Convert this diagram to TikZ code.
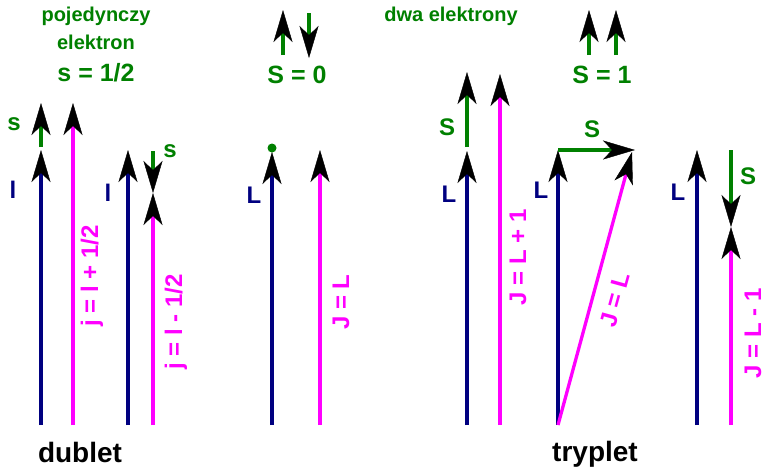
\documentclass[tikz,border=0pt]{standalone}
\usepackage{fontspec}
\setmainfont{Liberation Sans}
\usetikzlibrary{arrows.meta}
\definecolor{orbit}{RGB}{0,0,128}
\definecolor{spin}{RGB}{0,128,0}
\definecolor{total}{RGB}{255,0,255}

\begin{document}
\begin{tikzpicture}[x=1pt, y=-1pt,
  vec/.style={line width=3.3pt, -{Stealth[length=32pt, width=19pt, inset=9pt, line width=0.4pt, black]}},
  lbl/.style={font=\fontsize{24}{24}\selectfont\bfseries, anchor=base, inner sep=0pt},
  eqlbl/.style={font=\fontsize{24}{24}\selectfont\bfseries, text=total, inner sep=0pt},
  ttl/.style={font=\fontsize{20}{20}\selectfont\bfseries, text=spin, inner sep=0pt},
  big/.style={font=\fontsize{25}{25}\selectfont\bfseries, text=spin, inner sep=0pt},
  grp/.style={font=\fontsize{28}{28}\selectfont\bfseries, anchor=base, inner sep=0pt}]
  \useasboundingbox (0,0) rectangle (765,469);

  % Titles
  \node[ttl] (t1) at (96,16) {pojedynczy};
  \node[ttl] (t2) at (96,42) {elektron};
  \node[big] (t3) at (96,73) {s = 1/2};
  \node[ttl] (t4) at (451,16) {dwa elektrony};
  \node[big] (t5) at (297,75) {S = 0};
  \node[big] (t6) at (602,75) {S = 1};
  \node[grp] (n1) at (80,462) {dublet};
  \node[grp] (n2) at (595,461) {tryplet};

  % Dublet: j = l + 1/2
  \coordinate (l1a) at (41,425);  \coordinate (l1b) at (41,150);
  \coordinate (s1a) at (41,147);  \coordinate (s1b) at (41,103);
  \coordinate (j1a) at (73,425);  \coordinate (j1b) at (73,103);
  \draw[vec, orbit] (l1a) -- (l1b);
  \draw[vec, spin] (s1a) -- (s1b);
  \draw[vec, total] (j1a) -- (j1b);
  \node[lbl, text=spin] (s1) at (14,130) {s};
  \node[lbl, text=orbit] (ll1) at (13,198) {l};
  \node[eqlbl, rotate=90] (jl1) at (92,276) {j = l + 1/2};

  % Dublet: j = l - 1/2
  \coordinate (l2a) at (128,425); \coordinate (l2b) at (128,150);
  \coordinate (s2a) at (153,151); \coordinate (s2b) at (153,193);
  \coordinate (j2a) at (153,425); \coordinate (j2b) at (153,193);
  \draw[vec, orbit] (l2a) -- (l2b);
  \draw[vec, spin] (s2a) -- (s2b);
  \draw[vec, total] (j2a) -- (j2b);
  \node[lbl, text=spin] (s2) at (170,157) {s};
  \node[lbl, text=orbit] (ll2) at (108,201) {l};
  \node[eqlbl, rotate=90] (jl2) at (176,322) {j = l - 1/2};

  % Singlet spins
  \coordinate (u0a) at (283,55);  \coordinate (u0b) at (283,10);
  \coordinate (d0a) at (309,13);  \coordinate (d0b) at (309,58);
  \draw[vec, spin] (u0a) -- (u0b);
  \draw[vec, spin] (d0a) -- (d0b);

  % Singlet: J = L
  \coordinate (L0a) at (272,425); \coordinate (L0b) at (272,152);
  \coordinate (J0a) at (320,425); \coordinate (J0b) at (320,150);
  \coordinate (dot) at (272,148);
  \draw[vec, orbit] (L0a) -- (L0b);
  \draw[vec, total] (J0a) -- (J0b);
  \fill[spin] (dot) circle (4.5);
  \node[lbl, text=orbit] (L0) at (254,203) {L};
  \node[eqlbl, rotate=90] (JL0) at (341,302) {J = L};

  % Triplet spins
  \coordinate (u1a) at (589,55);  \coordinate (u1b) at (589,10);
  \coordinate (u2a) at (616,55);  \coordinate (u2b) at (616,10);
  \draw[vec, spin] (u1a) -- (u1b);
  \draw[vec, spin] (u2a) -- (u2b);

  % Triplet: J = L + 1
  \coordinate (L1a) at (467,425); \coordinate (L1b) at (467,151);
  \coordinate (S1a) at (467,147); \coordinate (S1b) at (467,72);
  \coordinate (J1a) at (500,425); \coordinate (J1b) at (500,74);
  \draw[vec, orbit] (L1a) -- (L1b);
  \draw[vec, spin] (S1a) -- (S1b);
  \draw[vec, total] (J1a) -- (J1b);
  \node[lbl, text=spin] (S1) at (447,135) {S};
  \node[lbl, text=orbit] (L1) at (449,202) {L};
  \node[eqlbl, rotate=90] (JL1) at (518,257) {J = L + 1};

  % Triplet: J = L
  \coordinate (L2a) at (558,425); \coordinate (L2b) at (558,150);
  \coordinate (S2b) at (635,150); \coordinate (J2b) at (632,152);
  \draw[vec, orbit] (L2a) -- (L2b);
  \draw[vec, spin] (L2b) -- (S2b);
  \draw[vec, total] (L2a) -- (J2b);
  \node[lbl, text=spin] (S2) at (592,137) {S};
  \node[lbl, text=orbit] (L2) at (541,198) {L};
  \node[eqlbl, rotate=74.6] (JL2) at (615,300) {J = L};

  % Triplet: J = L - 1
  \coordinate (L3a) at (697,425); \coordinate (L3b) at (697,150);
  \coordinate (S3a) at (731,150); \coordinate (S3b) at (731,227);
  \coordinate (J3a) at (731,425); \coordinate (J3b) at (731,227);
  \draw[vec, orbit] (L3a) -- (L3b);
  \draw[vec, spin] (S3a) -- (S3b);
  \draw[vec, total] (J3a) -- (J3b);
  \node[lbl, text=spin] (S3) at (748,184) {S};
  \node[lbl, text=orbit] (L3) at (678,200) {L};
  \node[eqlbl, rotate=90] (JL3) at (753,333) {J = L - 1};
\end{tikzpicture}
\end{document}
